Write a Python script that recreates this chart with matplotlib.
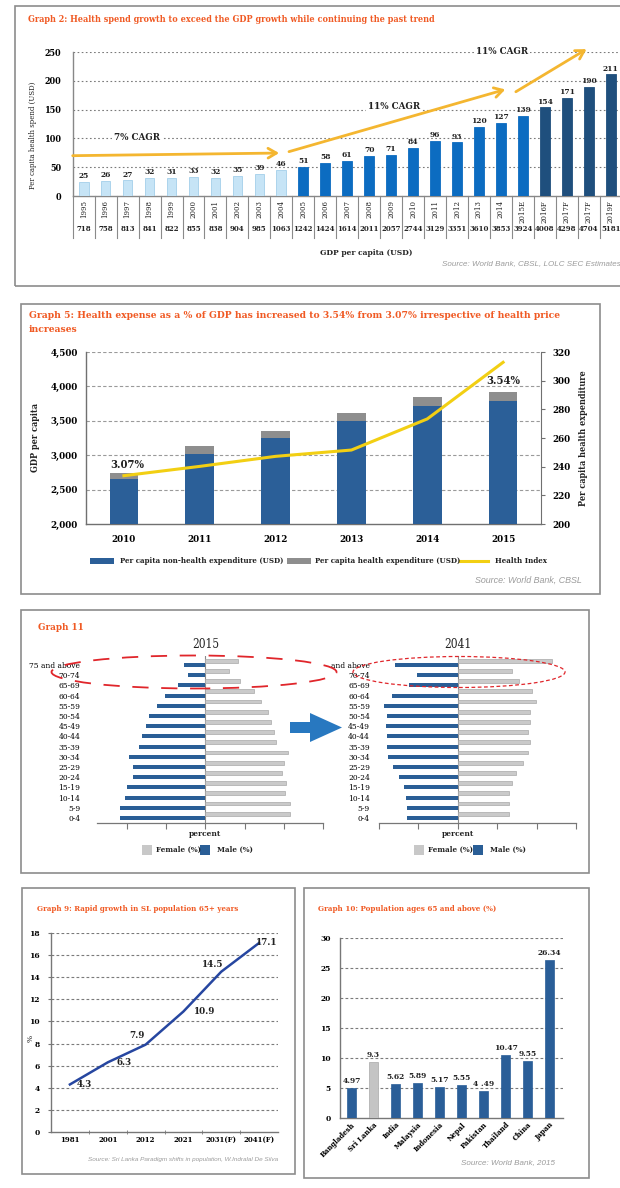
import matplotlib
matplotlib.use('Agg')
import matplotlib.pyplot as plt
from matplotlib.patches import Rectangle, Ellipse, Polygon
from matplotlib.lines import Line2D
from matplotlib.transforms import blended_transform_factory as btf

# ---------------- data ----------------
g2_years = ['1995', '1996', '1997', '1998', '1999', '2000', '2001', '2002', '2003', '2004',
            '2005', '2006', '2007', '2008', '2009', '2010', '2011', '2012', '2013', '2014',
            '2015E', '2016F', '2017F', '2017F', '2019F']
g2_spend = [25, 26, 27, 32, 31, 33, 32, 35, 39, 46, 51, 58, 61, 70, 71, 84, 96, 93, 120, 127,
            139, 154, 171, 190, 211]
g2_gdp = [718, 758, 813, 841, 822, 855, 838, 904, 985, 1063, 1242, 1424, 1614, 2011, 2057,
          2744, 3129, 3351, 3610, 3853, 3924, 4008, 4298, 4704, 5181]
g2_n_hist, g2_n_est, g2_n_fc = 10, 11, 4

g5_years = ['2010', '2011', '2012', '2013', '2014', '2015']
g5_nonhealth = [2650, 3020, 3250, 3490, 3720, 3790]
g5_health = [94, 109, 101, 120, 133, 134]
g5_index = [233.7, 240.2, 247.2, 251.6, 273.3, 312.8]

g11_ages = ['0-4', '5-9', '10-14', '15-19', '20-24', '25-29', '30-34', '35-39', '40-44',
            '45-49', '50-54', '55-59', '60-64', '65-69', '70-74', '75 and above']
g11_male_2015 = [4.38, 4.38, 4.12, 4.03, 3.68, 3.68, 3.93, 3.38, 3.25, 3.04, 2.87, 2.48, 2.09, 1.38, 0.87, 1.09]
g11_female_2015 = [4.31, 4.31, 4.05, 4.10, 3.93, 4.00, 4.21, 3.59, 3.49, 3.33, 3.20, 2.82, 2.46, 1.74, 1.18, 1.64]
g11_male_2041 = [2.58, 2.58, 2.62, 2.74, 2.97, 3.30, 3.54, 3.61, 3.59, 3.64, 3.61, 3.73, 3.35, 2.50, 2.07, 3.20]
g11_female_2041 = [2.60, 2.62, 2.62, 2.74, 2.94, 3.33, 3.56, 3.64, 3.54, 3.64, 3.69, 3.98, 3.79, 3.13, 2.74, 4.77]

g9_years = ['1981', '2001', '2012', '2021', '2031(F)', '2041(F)']
g9_pct = [4.3, 6.3, 7.9, 10.9, 14.5, 17.1]

g10_countries = ['Bangladesh', 'Sri Lanka', 'India', 'Malaysia', 'Indonesia', 'Nepal',
                 'Pakistan', 'Thailand', 'China', 'Japan']
g10_pct = [4.97, 9.3, 5.62, 5.89, 5.17, 5.55, 4.49, 10.47, 9.55, 26.34]
g10_labels = ['4.97', '9.3', '5.62', '5.89', '5.17', '5.55', '4 .49', '10.47', '9.55', '26.34']

# ---------------- setup ----------------
plt.rcParams['font.family'] = ['DejaVu Serif Condensed', 'DejaVu Serif']
plt.rcParams['font.stretch'] = 'condensed'
plt.rcParams['text.color'] = '#222222'

W, H = 620, 1188
fig = plt.figure(figsize=(W / 100, H / 100), dpi=100)
fig.patch.set_facecolor('white')

ORANGE = '#F05A24'
GRID = '#7a7a7a'
SRC = dict(family=['Liberation Sans Narrow', 'Liberation Sans', 'DejaVu Sans'],
           style='italic', color='#9b9b9b')


def add_ax(x0, y0, x1, y1):
    return fig.add_axes([x0 / W, 1 - y1 / H, (x1 - x0) / W, (y1 - y0) / H])


def ftext(x, y, s, **kw):
    return fig.text(x / W, 1 - y / H, s, **kw)


def fbox(x0, y0, x1, y1, color='#8c8c8c', lw=1.2):
    fig.add_artist(Rectangle((x0 / W, 1 - y1 / H), (x1 - x0) / W, (y1 - y0) / H,
                             transform=fig.transFigure, fill=False, ec=color, lw=lw))


def frect(x0, y0, x1, y1, color, ec='none'):
    fig.add_artist(Rectangle((x0 / W, 1 - y1 / H), (x1 - x0) / W, (y1 - y0) / H,
                             transform=fig.transFigure, fc=color, ec=ec, lw=0.6))


def fline(x0, y0, x1, y1, **kw):
    fig.add_artist(Line2D([x0 / W, x1 / W], [1 - y0 / H, 1 - y1 / H],
                          transform=fig.transFigure, **kw))


def style_spines(ax, show=('left', 'bottom'), color='#888888', lw=1.0):
    for k, sp in ax.spines.items():
        if k in show:
            sp.set_color(color)
            sp.set_linewidth(lw)
        else:
            sp.set_visible(False)


# ================= Graph 2 =================
fbox(15, 6, 660, 286)
ftext(28, 20, 'Graph 2: Health spend growth to exceed the GDP growth while continuing the past trend',
      color=ORANGE, fontsize=6.5, fontweight='bold', va='center')
ax2 = add_ax(72.7, 52, 620, 196)
n2 = len(g2_years)
x2 = list(range(n2))
c2 = ['#C6E4F6'] * g2_n_hist + ['#0C6CC1'] * g2_n_est + ['#1F4F7D'] * g2_n_fc
e2 = ['#A3CFEA'] * g2_n_hist + ['#0C6CC1'] * g2_n_est + ['#1F4F7D'] * g2_n_fc
ax2.bar(x2, g2_spend, width=0.44, color=c2, edgecolor=e2, linewidth=0.6, zorder=3)
ax2.set_xlim(-0.5, -0.5 + (620 - 72.7) / 21.96)
ax2.set_ylim(0, 250)
ax2.set_yticks(list(range(0, 251, 50)))
ax2.set_yticklabels([str(v) for v in range(0, 251, 50)], fontsize=6.5, fontweight='bold')
ax2.tick_params(axis='y', length=0, pad=8)
ax2.set_xticks([])
for v in range(50, 251, 50):
    ax2.axhline(v, color=GRID, lw=0.8, ls=(0, (1.5, 2.2)), zorder=1)
style_spines(ax2)
for i, v in enumerate(g2_spend):
    ax2.text(i, v + 3, str(v), ha='center', va='bottom', fontsize=6, fontweight='bold', zorder=4)
tr2 = btf(ax2.transData, ax2.transAxes)
for i in range(n2):
    ax2.text(i, -0.03, g2_years[i], rotation=90, ha='center', va='top', fontsize=5.6,
             transform=tr2, clip_on=False)
    ax2.text(i, -0.229, str(g2_gdp[i]), ha='center', va='center', fontsize=5.6,
             fontweight='bold', transform=tr2, clip_on=False)
for k in range(n2 + 1):
    ax2.plot([k - 0.5, k - 0.5], [0, -0.292], transform=tr2, color='#8a8a8a', lw=0.8, clip_on=False)

g2_arrows = [((-0.5, 70), (8.9, 74.6)), ((9.35, 77), (19.2, 185)), ((19.68, 181), (22.9, 255))]
for s, e in g2_arrows:
    ax2.annotate('', xy=e, xytext=s, annotation_clip=False, zorder=5,
                 arrowprops=dict(arrowstyle='->,head_length=0.6,head_width=0.35',
                                 color='#F4B630', lw=2.0, shrinkA=0, shrinkB=0))
g2_cagr = [(2.43, 102, '7% CAGR'), (14.14, 155, '11% CAGR'), (19.05, 250, '11% CAGR')]
for x, y, s in g2_cagr:
    ax2.text(x, y, s, ha='center', va='center', fontsize=7, fontweight='bold', zorder=4,
             bbox=dict(fc='white', ec='none', pad=1.5), clip_on=False)
ftext(33, 135, 'Per capita health spend (USD)', rotation=90, ha='center', va='center', fontsize=5.6)
ftext(320, 253, 'GDP per capita (USD)', fontsize=6, fontweight='bold', va='center')
ftext(621, 264, 'Source: World Bank, CBSL, LOLC SEC Estimates', ha='right', va='center',
      fontsize=5.8, **SRC)

# ================= Graph 5 =================
fbox(21, 304, 600, 594)
ftext(29, 315, 'Graph 5: Health expense as a % of GDP has increased to 3.54% from 3.07% irrespective of health price',
      color=ORANGE, fontsize=7.4, fontweight='bold', va='center')
ftext(29, 329, 'increases', color=ORANGE, fontsize=7.4, fontweight='bold', va='center')
ax5 = add_ax(86, 352, 541, 524)
x5 = list(range(len(g5_years)))
BLUE5 = '#2B5F98'
GRAY5 = '#8E8E8E'
ax5.bar(x5, g5_nonhealth, width=0.38, color=BLUE5, zorder=3)
ax5.bar(x5, g5_health, bottom=g5_nonhealth, width=0.38, color=GRAY5, zorder=3)
ax5.set_xlim(-0.5, 5.5)
ax5.set_ylim(2000, 4500)
ax5.set_yticks(list(range(2000, 4501, 500)))
ax5.set_yticklabels(['{:,}'.format(v) for v in range(2000, 4501, 500)], fontsize=7, fontweight='bold')
ax5.set_xticks(x5)
ax5.set_xticklabels(g5_years, fontsize=7, fontweight='bold')
ax5.tick_params(axis='y', length=0, pad=6)
ax5.tick_params(axis='x', length=0, pad=8)
for v in range(2500, 4501, 500):
    ax5.axhline(v, color='#9a9a9a', lw=0.8, ls=(0, (3, 2)), zorder=1)
style_spines(ax5, show=('left', 'bottom'), color='#707070', lw=1.0)
ax5.text(0.04, 2870, '3.07%', ha='center', va='center', fontsize=8, fontweight='bold', zorder=5)
ax5.text(5.0, 4080, '3.54%', ha='center', va='center', fontsize=8, fontweight='bold', zorder=5)
ax5r = ax5.twinx()
ax5r.plot(x5, g5_index, color='#F2CF13', lw=2.2, zorder=4)
ax5r.set_ylim(200, 320)
ax5r.set_yticks(list(range(200, 321, 20)))
ax5r.set_yticklabels([str(v) for v in range(200, 321, 20)], fontsize=7, fontweight='bold')
ax5r.tick_params(axis='y', length=3, pad=5, color='#707070')
for k, sp in ax5r.spines.items():
    if k == 'right':
        sp.set_color('#707070')
    else:
        sp.set_visible(False)
ftext(36, 438, 'GDP per capita', rotation=90, ha='center', va='center', fontsize=6.5, fontweight='bold')
ftext(584, 438, 'Per capita health expenditure', rotation=90, ha='center', va='center',
      fontsize=6.5, fontweight='bold')
frect(90, 558, 114, 564, BLUE5)
ftext(120, 561, 'Per capita non-health expenditure (USD)', fontsize=5.7, fontweight='bold', va='center')
frect(287, 558, 311, 564, GRAY5)
ftext(315, 561, 'Per capita health expenditure (USD)', fontsize=5.7, fontweight='bold', va='center')
fline(460, 561, 488, 561, color='#F2CF13', lw=2.2)
ftext(495, 561, 'Health Index', fontsize=5.7, fontweight='bold', va='center')
ftext(582, 580, 'Source: World Bank, CBSL', ha='right', va='center', fontsize=6.4, **SRC)

# ================= Graph 11 =================
fbox(21, 610, 589, 873)
ftext(38, 628, 'Graph 11', color=ORANGE, fontsize=7, fontweight='bold', va='center')


def pyramid(x0, x1, xl, male, female, labels, pad):
    ax = add_ax(x0, 655.8, x1, 823)
    pos = list(range(len(labels)))
    ax.barh([p + 0.42 for p in pos], female, height=0.38, color='#CACACA',
            edgecolor='#A8A8A8', lw=0.5, zorder=3)
    ax.barh(pos, [-m for m in male], height=0.38, color='#2A5E96', zorder=3)
    ax.set_xlim(*xl)
    ax.set_ylim(-0.49, 15.9)
    ax.axvline(0, color='#8a8a8a', lw=0.8, zorder=2)
    ax.set_yticks(pos)
    ax.set_yticklabels(labels, fontsize=6.0)
    ax.tick_params(axis='y', length=0, pad=pad)
    ticks = [t for t in range(-6, 7, 2) if xl[0] <= t <= xl[1]]
    ax.set_xticks(ticks)
    ax.set_xticklabels([])
    ax.tick_params(axis='x', length=4, direction='out', color='#777777', width=0.8)
    style_spines(ax, show=('bottom',), color='#777777', lw=0.9)
    return ax


pyramid(97, 323, (-5.54, 6.0), g11_male_2015, g11_female_2015, g11_ages, 12)
pyramid(379, 576, (-4.0, 6.0), g11_male_2041, g11_female_2041, g11_ages[:-1] + ['and above'], 6.5)
ftext(206, 644, '2015', ha='center', va='center', fontsize=8.5)
ftext(458, 644, '2041', ha='center', va='center', fontsize=8.5)
for cx, fx0, mx0 in [(205, 142, 200), (458, 414, 473)]:
    ftext(cx, 834, 'percent', ha='center', va='center', fontsize=6, fontweight='bold')
    frect(fx0, 845, fx0 + 10, 855, '#C8C8C8')
    ftext(fx0 + 14, 850, 'Female (%)', fontsize=5.8, fontweight='bold', va='center')
    frect(mx0, 845, mx0 + 10, 855, '#2A5E96')
    ftext(mx0 + 17, 850, 'Male (%)', fontsize=5.8, fontweight='bold', va='center')

arrow_px = [(290, 722), (310, 722), (310, 713), (342, 727.5), (310, 742), (310, 733), (290, 733)]
fig.add_artist(Polygon([(x / W, 1 - y / H) for x, y in arrow_px], closed=True,
                       transform=fig.transFigure, fc='#2878C0', ec='none'))
fig.add_artist(Ellipse((194 / W, 1 - 672 / H), 285 / W, 33 / H, transform=fig.transFigure,
                       fill=False, ec='#E0262B', lw=1.3, ls=(0, (9, 7)), zorder=10))
fig.add_artist(Ellipse((459 / W, 1 - 672 / H), 212 / W, 31 / H, transform=fig.transFigure,
                       fill=False, ec='#E0262B', lw=0.9, ls=(0, (3, 2)), zorder=10))

# ================= Graph 9 =================
fbox(22, 888, 295, 1174)
ftext(37, 909, 'Graph 9: Rapid growth in SL population 65+ years', color=ORANGE, fontsize=5.7,
      fontweight='bold', va='center')
ax9 = add_ax(51, 933, 278, 1132)
x9 = [i + 0.5 for i in range(len(g9_years))]
ax9.plot(x9, g9_pct, color='#2646A0', lw=1.8, zorder=3)
ax9.set_xlim(0, 6)
ax9.set_ylim(0, 18)
ax9.set_yticks(list(range(0, 19, 2)))
ax9.set_yticklabels([str(v) for v in range(0, 19, 2)], fontsize=6, fontweight='bold')
ax9.tick_params(axis='y', length=2, pad=6, color='#777777')
ax9.set_xticks(x9)
ax9.set_xticklabels(g9_years, fontsize=5.6, fontweight='bold')
ax9.set_xticks([1, 2, 3, 4, 5], minor=True)
ax9.tick_params(axis='x', which='major', length=0, pad=3)
ax9.tick_params(axis='x', which='minor', length=3, direction='inout', color='#777777')
for v in range(2, 19, 2):
    ax9.axhline(v, color=GRID, lw=0.8, ls=(0, (2.5, 2)), zorder=1)
style_spines(ax9, color='#777777')
g9_offsets = [(15, 0, 'left'), (17, 0, 'left'), (-9, 9, 'center'), (19, 0, 'left'),
              (-9, 7, 'center'), (5, 0, 'left')]
for xi, v, (dx, dy, ha) in zip(x9, g9_pct, g9_offsets):
    if ha == 'left':
        ax9.annotate(str(v), (xi, v), xytext=(dx - 8, -dy), textcoords='offset pixels',
                     ha='left', va='center', fontsize=7, fontweight='bold')
    else:
        ax9.annotate(str(v), (xi, v), xytext=(dx, dy), textcoords='offset pixels',
                     ha='center', va='center', fontsize=7, fontweight='bold')
ftext(31, 1038, '%', rotation=90, ha='center', va='center', fontsize=6)
ftext(278, 1159, 'Source: Sri Lanka Paradigm shifts in population, W.Indralal De Silva', ha='right',
      va='center', fontsize=4.6, **SRC)

# ================= Graph 10 =================
fbox(304, 888, 589, 1178)
ftext(318, 909, 'Graph 10: Population ages 65 and above (%)', color=ORANGE, fontsize=5.8,
      fontweight='bold', va='center')
ax10 = add_ax(340, 938, 563, 1118)
x10 = list(range(len(g10_countries)))
c10 = ['#C4C4C4' if c == 'Sri Lanka' else '#2A5E98' for c in g10_countries]
e10 = ['#A8A8A8' if c == 'Sri Lanka' else '#2A5E98' for c in g10_countries]
ax10.bar(x10, g10_pct, width=0.42, color=c10, edgecolor=e10, lw=0.5, zorder=3)
ax10.set_xlim(-0.52, 9.6)
ax10.set_ylim(0, 30)
ax10.set_yticks(list(range(0, 31, 5)))
ax10.set_yticklabels([str(v) for v in range(0, 31, 5)], fontsize=6, fontweight='bold')
ax10.tick_params(axis='y', length=0, pad=6.5)
ax10.set_xticks(x10)
ax10.set_xticklabels(g10_countries, rotation=45, ha='right', rotation_mode='anchor',
                     fontsize=5.6, fontweight='bold')
ax10.tick_params(axis='x', length=0, pad=2)
for v in range(5, 31, 5):
    ax10.axhline(v, color=GRID, lw=0.8, ls=(0, (2.5, 2)), zorder=1)
style_spines(ax10, color='#777777')
for xi, v, s in zip(x10, g10_pct, g10_labels):
    ax10.text(xi, v + 0.5, s, ha='center', va='bottom', fontsize=6, fontweight='bold', zorder=4)
ftext(555, 1163, 'Source: World Bank, 2015', ha='right', va='center', fontsize=5.8, **SRC)

fig.savefig('out.png', dpi=100)
